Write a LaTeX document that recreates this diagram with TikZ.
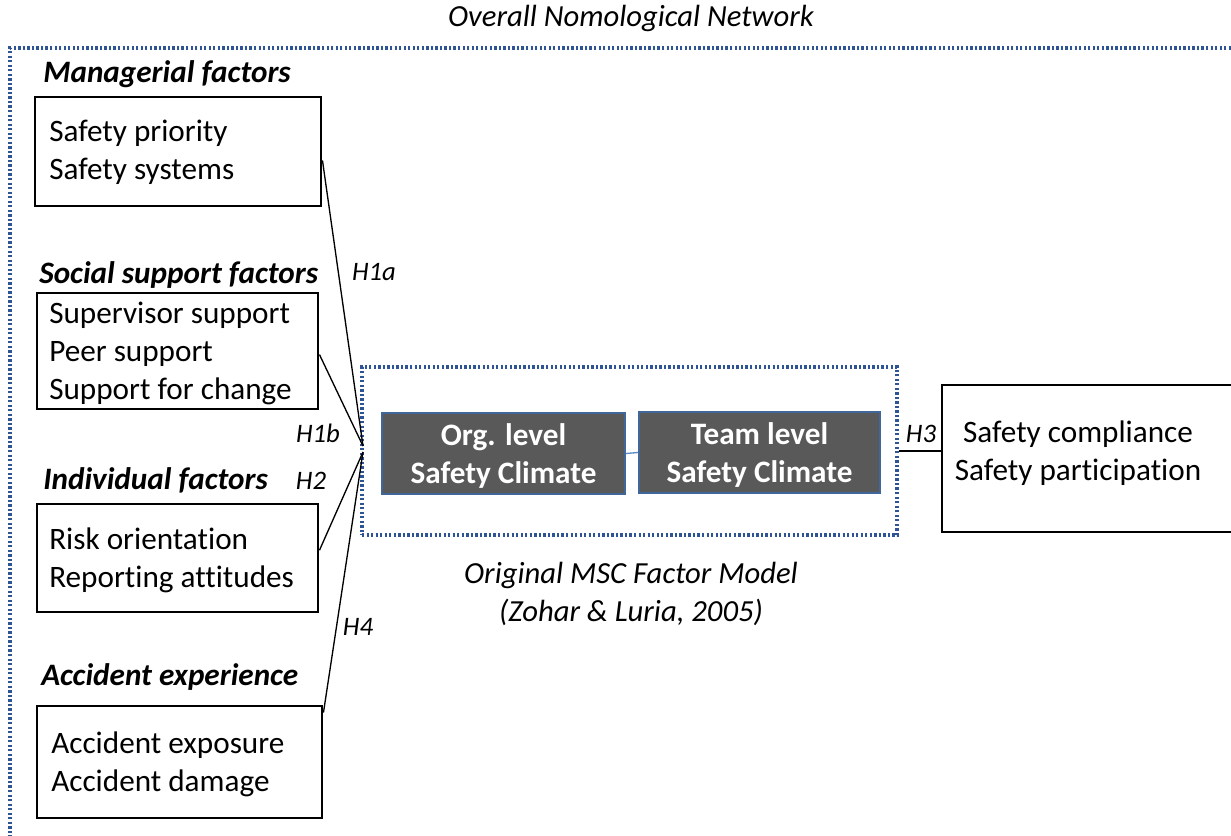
\documentclass[tikz,border=0pt]{standalone}
\usepackage{fontspec}
\setmainfont{Carlito}[Ligatures={NoCommon,NoRare,NoContextual}]
\usetikzlibrary{fit,calc}
\definecolor{navy}{RGB}{47,84,150}
\definecolor{darkfill}{RGB}{89,89,89}
\definecolor{darkedge}{RGB}{65,103,154}
\definecolor{linkblue}{RGB}{91,140,200}
\begin{document}
\begin{tikzpicture}[x=0.75pt,y=-0.75pt,
  txt/.style={font=\fontsize{23.4pt}{28.5pt}\selectfont, inner sep=0pt},
  lbl/.style={font=\fontsize{23.4pt}{28.5pt}\selectfont\bfseries\itshape, inner sep=0pt, anchor=west},
  hyp/.style={font=\fontsize{20pt}{24pt}\selectfont\itshape, inner sep=0pt},
  factorbox/.style={draw=black, line width=2.2pt, inner sep=0pt},
  dotbox/.style={draw=navy, line width=2.3pt, dash pattern=on 1.7pt off 1.7pt, inner sep=0pt},
  darkbox/.style={draw=darkedge, fill=darkfill, line width=1.6pt, inner sep=0pt},
  link/.style={draw=black, line width=1pt}]
\useasboundingbox (0,0) rectangle (1231,835);

% outer dotted frame
\draw[dotbox] (1240,48) -- (10,48) -- (10,845);
\node[txt, font=\fontsize{23pt}{28.5pt}\selectfont\itshape] (title) at (631,18) {Overall Nomological Network};

% factor boxes
\node[factorbox, fit={(35,97) (321,206)}] (m) {};
\node[txt, anchor=west, align=left] (mt) at (49,152) {Safety priority\\Safety systems};
\node[lbl] (ml) at (43,74) {Managerial factors};

\node[factorbox, fit={(37,293) (318,409)}] (s) {};
\node[txt, anchor=west, align=left] (st) at (49,353) {Supervisor support\\Peer support\\Support for change};
\node[lbl] (sl) at (39,275) {Social support factors};

\node[factorbox, fit={(37,504) (318,612)}] (i) {};
\node[txt, anchor=west, align=left] (it) at (49,560) {Risk orientation\\Reporting attitudes};
\node[lbl] (il) at (43,480) {Individual factors};

\node[factorbox, fit={(37,706) (322,818)}] (a) {};
\node[txt, anchor=west, align=left] (at) at (51,764) {Accident exposure\\Accident damage};
\node[lbl] (al) at (41,677) {Accident experience};

% inner dotted model box
\node[dotbox, fit={(362,367) (897,535)}] (msc) {};
\node[darkbox, fit={(382,413) (625,494)}] (org) {};
\node[txt, text=white, font=\fontsize{23.4pt}{28.5pt}\selectfont\bfseries, align=center] (orgt) at ($(org.center)+(0,3)$) {Org. level\\Safety Climate};
\node[darkbox, fit={(639,412) (880,493)}] (team) {};
\node[txt, text=white, font=\fontsize{23.4pt}{28.5pt}\selectfont\bfseries, align=center] (teamt) at ($(team.center)+(0,3)$) {Team level\\Safety Climate};
\draw[draw=linkblue, line width=1pt] (org.east) -- (team.west);
\node[txt, font=\fontsize{23pt}{28.5pt}\selectfont\itshape, align=center] (cap) at (631,594) {Original MSC Factor Model\\(Zohar \& Luria, 2005)};

% outcome box
\node[factorbox, fit={(942,385) (1245,532)}] (o) {};
\node[txt, align=center] (ot) at (1078,453) {Safety compliance\\Safety participation};

% connectors
\coordinate (c1) at (363,446);
\coordinate (c2) at (363,452);
\draw[link] ($(m.north east)!0.58!(m.south east)$) -- (c1);
\draw[link] ($(s.north east)!0.53!(s.south east)$) -- (c1);
\draw[link] ($(i.north east)!0.43!(i.south east)$) -- (c2);
\draw[link] ($(a.north east)+(0,8)$) -- (c2);
\draw[link] (msc.east) -- (o.west |- msc.east);

% hypothesis labels
\node[hyp] (h1a) at (374,272) {H1a};
\node[hyp] (h1b) at (318,433) {H1b};
\node[hyp] (h2) at (311,481) {H2};
\node[hyp] (h4) at (358,627) {H4};
\node[hyp] (h3) at (921,434) {H3};
\end{tikzpicture}
\end{document}
